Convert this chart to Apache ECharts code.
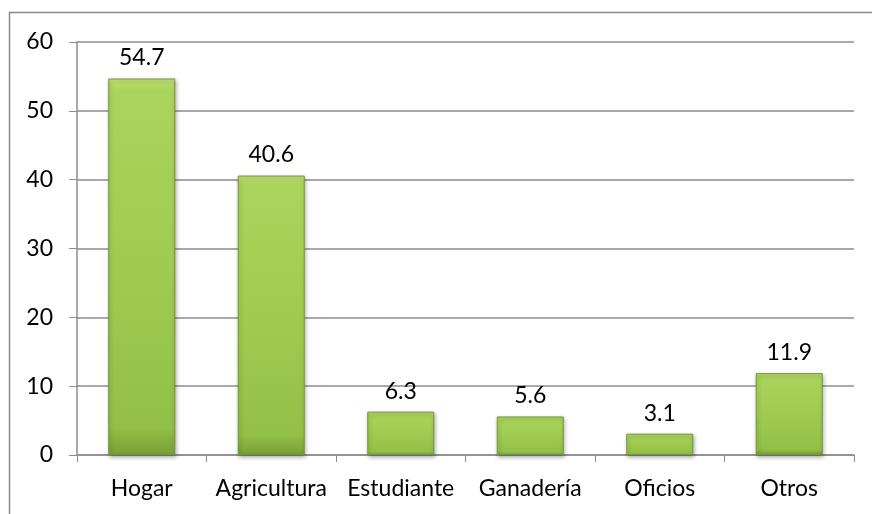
<!DOCTYPE html>
<html>
<head>
<meta charset="utf-8">
<script src="https://cdn.jsdelivr.net/npm/echarts@6/dist/echarts.min.js"></script>
<style>
  html, body { margin: 0; padding: 0; background: #fff; }
  #chart { width: 872px; height: 514px; }
</style>
</head>
<body>
<div id="chart"></div>
<script>
// categories and values
const categories = ['Hogar', 'Agricultura', 'Estudiante', 'Ganadería', 'Oficios', 'Otros'];
const values = [54.7, 40.6, 6.3, 5.6, 3.1, 11.9];

const FONT = 'Lato';
const GRID_COLOR = '#8c8c8c';

const chart = echarts.init(document.getElementById('chart'));

chart.setOption({
    backgroundColor: '#fff',
    animation: false,
    graphic: [{
        type: 'rect',
        shape: { x: 9.5, y: 12.5, width: 900, height: 600 },
        style: { fill: 'none', stroke: '#8a8a8a', lineWidth: 1.5 },
        silent: true
    }],
    grid: { left: 77, right: 18, top: 42, bottom: 59 },
    xAxis: {
        type: 'category',
        data: categories,
        axisLine: { lineStyle: { color: GRID_COLOR, width: 1.5 } },
        axisTick: { show: true, length: 7, lineStyle: { color: GRID_COLOR } },
        axisLabel: {
            color: '#000', fontFamily: FONT, fontSize: 23, margin: 22,
            interval: 0, hideOverlap: false
        }
    },
    yAxis: {
        type: 'value',
        min: 0,
        max: 60,
        interval: 10,
        axisLine: { show: true, lineStyle: { color: GRID_COLOR, width: 1.5 } },
        axisTick: { show: true, length: 8, lineStyle: { color: GRID_COLOR } },
        splitLine: { lineStyle: { color: GRID_COLOR, width: 1.5 } },
        axisLabel: { color: '#000', fontFamily: FONT, fontSize: 23, margin: 24 }
    },
    series: [{
        type: 'bar',
        data: values,
        barWidth: 67,
        itemStyle: {
            color: new echarts.graphic.LinearGradient(0, 0, 0, 1, [
                { offset: 0, color: '#c2e27a' },
                { offset: 0.03, color: '#abd45c' },
                { offset: 0.5, color: '#9fcc50' },
                { offset: 0.93, color: '#92bf47' },
                { offset: 1, color: '#789f33' }
            ]),
            borderColor: '#74953a',
            borderWidth: 1,
            shadowColor: 'rgba(0,0,0,0.3)',
            shadowBlur: 4,
            shadowOffsetX: 1,
            shadowOffsetY: 2
        },
        label: {
            show: true,
            position: 'top',
            distance: 9,
            color: '#000',
            fontFamily: FONT,
            fontSize: 23,
            formatter: (p) => p.value.toFixed(1)
        }
    }]
});
</script>
</body>
</html>
